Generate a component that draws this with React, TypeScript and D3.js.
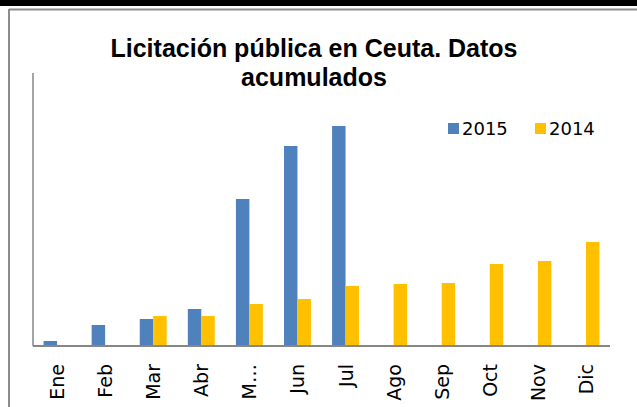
import React from "react";
import * as d3 from "d3";

const months = ["Ene", "Feb", "Mar", "Abr", "M…", "Jun", "Jul", "Ago", "Sep", "Oct", "Nov", "Dic"];
const series = ["2015", "2014"];
const values2015: (number | null)[] = [5, 21, 27, 37, 147, 200, 220, null, null, null, null, null];
const values2014: (number | null)[] = [null, null, 30, 30, 42, 47, 60, 62, 63, 82, 85, 104];
const colors = ["#4F81BD", "#FFC000"];
const titleLines = ["Licitación pública en Ceuta. Datos", "acumulados"];

export default function App() {
  const W = 637, H = 407;
  const x0 = 33, x1 = 610, yBase = 346, yTop = 73;
  const x = d3.scaleBand<string>().domain(months).range([x0, x1]).padding(0);
  const bw = x.bandwidth();
  const barW = bw * 0.28;
  const xi = d3.scaleBand<string>().domain(series).range([bw / 2 - barW, bw / 2 + barW]).padding(0);
  const y = d3.scaleLinear().domain([0, 273]).range([yBase, yTop]);
  const data = [values2015, values2014];
  const labelFont = "'DejaVu Sans', Verdana, sans-serif";

  return (
    <svg width={W} height={H} style={{ position: "absolute", left: 0, top: 0, background: "#fff" }}>
      <rect x={0} y={0} width={W} height={6} fill="#000" />
      <line x1={9} y1={9.5} x2={W} y2={9.5} stroke="#8c8c8c" strokeWidth={2} />
      <line x1={9} y1={9} x2={9} y2={H} stroke="#8c8c8c" strokeWidth={2} />
      {titleLines.map((t, i) => (
        <text key={i} x={314} y={57 + i * 29} textAnchor="middle"
          fontFamily="'Liberation Sans', Arial, sans-serif" fontWeight="bold" fontSize={25} fill="#000">
          {t}
        </text>
      ))}
      {data.map((vals, si) =>
        vals.map((v, i) =>
          v == null ? null : (
            <rect key={`${si}-${i}`} x={(x(months[i]) as number) + (xi(series[si]) as number)}
              y={y(v)} width={xi.bandwidth()} height={yBase - y(v)} fill={colors[si]} />
          )
        )
      )}
      <line x1={x0} y1={yTop} x2={x0} y2={yBase} stroke="#868686" strokeWidth={1.5} />
      <line x1={x0} y1={yBase} x2={x1} y2={yBase} stroke="#868686" strokeWidth={2} />
      {months.map((m) => {
        const cx = (x(m) as number) + bw / 2;
        return (
          <text key={m} transform={`translate(${cx + 7},${yBase + 18}) rotate(-90)`} textAnchor="end"
            fontFamily={labelFont} fontSize={19} fill="#000">
            {m}
          </text>
        );
      })}
      {series.map((s, i) => (
        <g key={s} transform={`translate(${448 + i * 87},123)`}>
          <rect x={0} y={0} width={11} height={11} fill={colors[i]} />
          <text x={14} y={12} fontFamily={labelFont} fontSize={18} fill="#000">{s}</text>
        </g>
      ))}
    </svg>
  );
}
